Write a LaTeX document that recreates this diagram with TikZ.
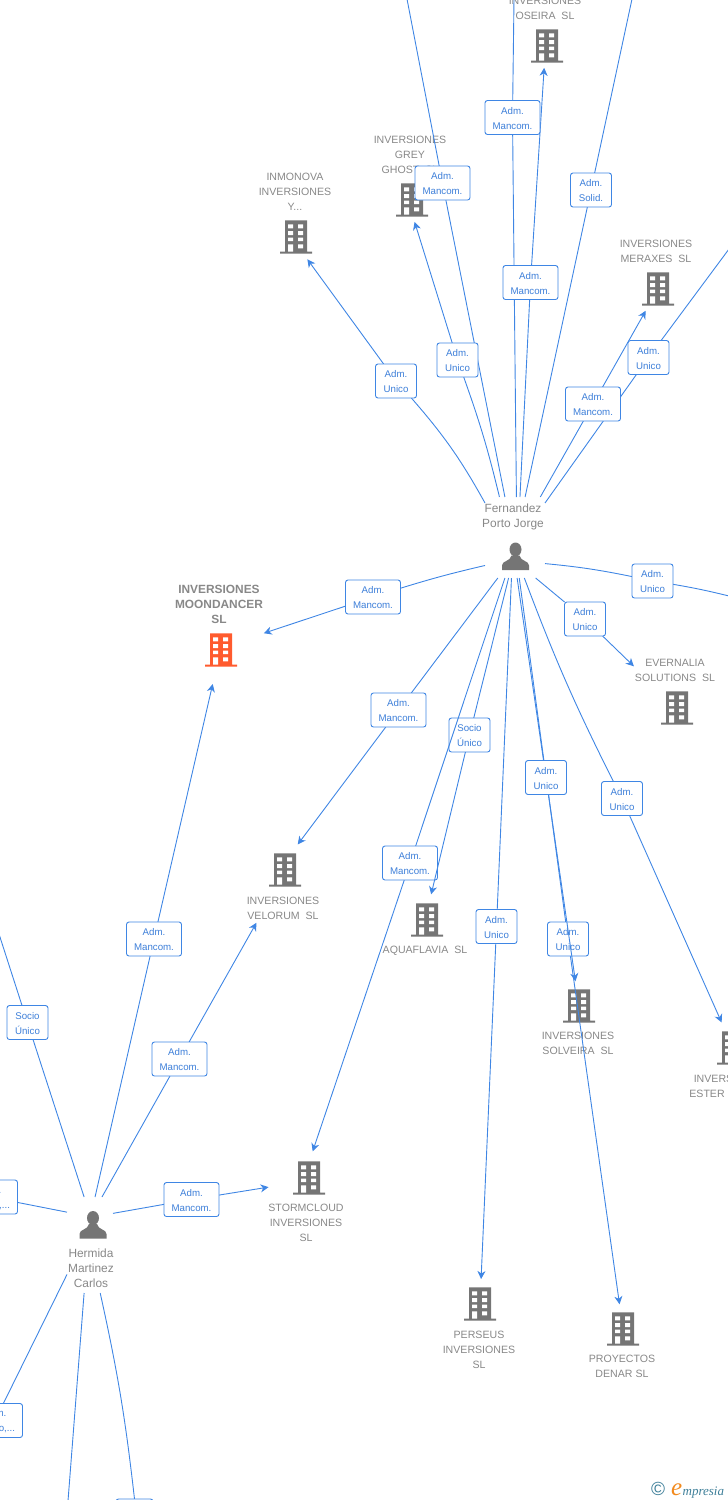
\documentclass[tikz,border=0pt]{standalone}
\usepackage{fontspec}
\setmainfont{Liberation Sans}
\newfontfamily\logofont{Liberation Serif}
\usetikzlibrary{arrows.meta}
\definecolor{linkblue}{HTML}{3F86E4}
\definecolor{boxtext}{HTML}{3D7FD9}
\definecolor{namegray}{HTML}{888888}
\definecolor{icongray}{HTML}{757575}
\definecolor{mainorange}{HTML}{FF5B2E}
\definecolor{logoteal}{HTML}{3E7F99}
\definecolor{logoorange}{HTML}{F28A1E}
\pgfdeclarelayer{boxes}
\pgfdeclarelayer{over}
\pgfsetlayers{main,boxes,over}
\newcommand{\roletext}[2]{\rule{0pt}{9pt}#1\\#2}
\newcommand{\drawbuilding}[1]{%
  \begin{scope}[shift={(path picture bounding box.center)}]
    \fill[#1] (-11,-16.7) rectangle (11,15) (-16,14.7) rectangle (16,16.7);
    \fill[white] (-8,-12.7) rectangle (-3,-8.7) (2,-12.7) rectangle (7,-8.7)
      (-8,-6) rectangle (-3,-2) (2,-6) rectangle (7,-2)
      (-8,0.7) rectangle (-3,4) (2,0.7) rectangle (7,4)
      (-8,7.3) rectangle (-3,14.7) (2,7.3) rectangle (7,11.3);
  \end{scope}}
\newcommand{\drawperson}{%
  \begin{scope}[shift={(path picture bounding box.center)}]
    \fill[icongray] (0,-7) ellipse (6 and 7);
    \fill[icongray] (-13.5,13.5) -- (-13.5,9) .. controls (-13.5,4) and (-5,5) .. (-4,-1)
      -- (4,-1) .. controls (5,5) and (13.5,4) .. (13.5,9) -- (13.5,13.5) -- cycle;
  \end{scope}}
\tikzset{
  company/.style={circle,inner sep=0pt,outer sep=0pt,minimum size=50pt,path picture={\drawbuilding{#1}}},
  company/.default=icongray,
  person/.style={circle,inner sep=0pt,minimum size=40pt,path picture={\drawperson}},
  hubfer/.style={rectangle,inner sep=0pt,outer sep=0pt,minimum width=60pt,minimum height=81pt},
  hubher/.style={rectangle,inner sep=0pt,outer sep=0pt,minimum width=46pt,minimum height=96pt},
  namelabel/.style={text=namegray,align=center,inner sep=0pt,yshift=-0.7pt,font=\fontsize{10.6}{15}\selectfont},
  personlabel/.style={namelabel,font=\fontsize{11.9}{15}\selectfont},
  rolebox/.style={draw=linkblue,line width=0.9pt,rounded corners=2.5pt,fill=white,
    text=boxtext,align=center,inner sep=0pt,outer sep=0pt,minimum height=34pt,
    font=\fontsize{9.7}{15}\selectfont},
  wide/.style={rolebox,minimum width=55pt},
  narrow/.style={rolebox,minimum width=41pt},
  link/.style={draw=linkblue,line width=0.9pt},
  arrow/.style={link,-{Stealth[length=8pt,width=8pt,inset=2.5pt]}}
}
\begin{document}
\begin{tikzpicture}[x=1pt,y=-1pt]
  \useasboundingbox (0,0) rectangle (728,1500);
  %NODE
  \node[company] (oseira) at (547,46){};
  \node[company] (grey) at (412,200){};
  \node[company] (inmonova) at (296,237){};
  \node[company] (meraxes) at (658,289){};
  \node[company] (evernalia) at (677,708){};
  \node[company=mainorange] (moondancer) at (221,650){};
  \node[company] (velorum) at (285,870){};
  \node[company] (aquaflavia) at (427,920){};
  \node[company] (solveira) at (579,1006){};
  \node[company] (ester) at (733,1048){};
  \node[company] (stormcloud) at (309,1178){};
  \node[company] (perseus) at (480,1304){};
  \node[company] (proyectos) at (623,1329){};
  \node[person] (fernandezicon) at (515.5,556.5){};
  \node[person] (hermidaicon) at (93,1225){};
  \node[hubfer] (fernandez) at (515,537.5){};
  \node[hubher] (hermida) at (90,1245){};

  \node[namelabel] (oseiraname) at (545,7.5){INVERSIONES\\OSEIRA\ \ SL};
  \node[namelabel] (greyname) at (410,154){INVERSIONES\\GREY\\GHOST\ \ SL};
  \node[namelabel] (inmonovaname) at (295,191){INMONOVA\\INVERSIONES\\Y...};
  \node[namelabel] (meraxesname) at (656,250.5){INVERSIONES\\MERAXES\ \ SL};
  \node[namelabel] (evernalianame) at (675,669.5){EVERNALIA\\SOLUTIONS\ \ SL};
  \node[namelabel,font=\fontsize{11.9}{15}\selectfont\bfseries] (moondancername) at (219,604){INVERSIONES\\MOONDANCER\\SL};
  \node[namelabel] (velorumname) at (283,907.5){INVERSIONES\\VELORUM\ \ SL};
  \node[namelabel] (aquaflavianame) at (425,950){AQUAFLAVIA\ \ SL};
  \node[namelabel] (solveiraname) at (578,1042.5){INVERSIONES\\SOLVEIRA\ \ SL};
  \node[namelabel] (estername) at (730,1085.5){INVERSIONES\\ESTER\hphantom{OSEIRA\ \ }};
  \node[namelabel] (stormcloudname) at (306,1222){STORMCLOUD\\INVERSIONES\\SL};
  \node[namelabel] (perseusname) at (479,1349){PERSEUS\\INVERSIONES\\SL};
  \node[namelabel] (proyectosname) at (622,1365.5){PROYECTOS\\DENAR SL};
  \node[personlabel] (fernandezname) at (513,516.5){Fernandez\\Porto Jorge};
  \node[personlabel] (hermidaname) at (91,1268){Hermida\\Martinez\\Carlos};

  \node[text=logoteal,inner sep=0pt,font=\fontsize{19}{19}\selectfont] (logomark) at (658,1488.5){©};
  \node[anchor=base west,inner sep=0pt,font=\logofont\itshape\fontsize{25}{25}\selectfont,text=logoorange] (logoe) at (671,1495){e};
  \node[anchor=base west,inner sep=0pt,font=\logofont\itshape\fontsize{13}{13}\selectfont,text=logoteal] (logorest) at (logoe.base east){mpresia};

  \coordinate (topleft) at (407,-1);
  \coordinate (topmid) at (514,-1);
  \coordinate (topright) at (632,-1);
  \coordinate (rightup) at (729,249);
  \coordinate (rightmid) at (729,596);
  \coordinate (leftup) at (-1,934);
  \coordinate (bottomleft) at (68,1501);

  \begin{pgfonlayer}{boxes}
    \node[narrow] (unicoinmonova) at (396,381){\roletext{Adm.}{Unico}};
    \node[narrow] (unicogrey) at (457.5,360){\roletext{Adm.}{Unico}};
    \node[wide] (mancomtopleft) at (442.5,183){\roletext{Adm.}{Mancom.}};
    \node[wide] (mancomtopmid) at (512.5,117.5){\roletext{Adm.}{Mancom.}};
    \node[wide] (mancomoseira) at (530.5,282.5){\roletext{Adm.}{Mancom.}};
    \node[narrow] (solidtop) at (591,190){\roletext{Adm.}{Solid.}};
    \node[wide] (mancommeraxes) at (593,404){\roletext{Adm.}{Mancom.}};
    \node[narrow] (unicorightup) at (648.5,357.5){\roletext{Adm.}{Unico}};
    \node[narrow] (unicorightmid) at (652.5,581){\roletext{Adm.}{Unico}};
    \node[narrow] (unicoevernalia) at (585,619){\roletext{Adm.}{Unico}};
    \node[wide] (mancommoonf) at (373,597){\roletext{Adm.}{Mancom.}};
    \node[wide] (mancomvelorf) at (398.5,710){\roletext{Adm.}{Mancom.}};
    \node[narrow] (socioaqua) at (469.5,735){\roletext{Socio}{Único}};
    \node[wide] (mancomstormf) at (410,863){\roletext{Adm.}{Mancom.}};
    \node[narrow] (unicoperseus) at (496.5,926.5){\roletext{Adm.}{Unico}};
    \node[narrow] (unicosolveira) at (546,777.5){\roletext{Adm.}{Unico}};
    \node[narrow] (unicoproyectos) at (568,939){\roletext{Adm.}{Unico}};
    \node[narrow] (unicoester) at (622,798.5){\roletext{Adm.}{Unico}};
    \node[wide] (mancommoonh) at (154,939){\roletext{Adm.}{Mancom.}};
    \node[wide] (mancomvelorh) at (179.5,1059){\roletext{Adm.}{Mancom.}};
    \node[wide] (mancomstormh) at (191.5,1199.5){\roletext{Adm.}{Mancom.}};
    \node[narrow] (socioleft) at (27.5,1022.5){\roletext{Socio}{Único}};
    \node[wide] (clippedup) at (-10,1197){\roletext{Adm.}{Manco,...}};
    \node[wide] (clippeddown) at (-5,1420.5){\roletext{Adm.}{Manco,...}};
    \node[rolebox,minimum width=37pt] (clippedbottom) at (134.5,1516){};
  \end{pgfonlayer}

  %EDGE
  \path[link] (fernandez.131) to[bend right=6] (unicoinmonova);
  \draw[arrow] (unicoinmonova) -- (inmonova.-63.4);
  \path[link] (fernandez.111.6) to[bend right=3] (unicogrey);
  \draw[arrow,shorten >=-3pt] (unicogrey) -- (grey.-82.2);
  \draw[link] (fernandez.104) -- (mancomtopleft);
  \draw[link] (mancomtopleft) -- (topleft);
  \draw[link] (fernandez.88.6) -- (mancomtopmid);
  \draw[link] (mancomtopmid) -- (topmid);
  \draw[link] (fernandez.83) -- (mancomoseira);
  \draw[arrow,shorten >=-3pt] (mancomoseira) -- (oseira.-97.8);
  \draw[link] (fernandez.76) -- (solidtop);
  \draw[link] (solidtop) -- (topright);
  \draw[link] (fernandez.58.3) -- (mancommeraxes);
  \draw[arrow] (mancommeraxes) -- (meraxes);
  \draw[link] (fernandez.49) -- (unicorightup);
  \draw[link] (unicorightup) -- (rightup);
  \path[link] (fernandez.-41.5) to[bend left=3] (unicorightmid);
  \path[link] (unicorightmid) to[bend left=2] (rightmid);
  \draw[link] (fernandez.-63.7) -- (unicoevernalia);
  \draw[arrow,shorten >=35pt] (unicoevernalia) -- (evernalia);
  \path[link] (fernandez.223.5) to[bend right=2] (mancommoonf);
  \draw[arrow,shorten >=21pt] (mancommoonf) -- (moondancer.24.3);
  \draw[link] (fernandez.247.2) -- (mancomvelorf);
  \draw[arrow,shorten >=3.6pt] (mancomvelorf) -- (velorum.65.2);
  \draw[link] (fernandez.261.6) -- (socioaqua);
  \draw[link] (fernandez.265.8) -- (unicoperseus);
  \draw[arrow] (unicoperseus) -- (perseus);
  \draw[link] (fernandez.-87.2) -- (unicosolveira);
  \draw[link] (fernandez.-84.4) -- (unicoproyectos);
  \draw[arrow] (unicoproyectos) -- (proyectos);
  \path[link] (fernandez.-77.5) to[bend right=3] (unicoester);
  \draw[arrow,shorten >=3pt] (unicoester) -- (ester);
  \draw[arrow,shorten >=2pt] (mancomstormf) -- (stormcloud.83.7);

  \draw[link] (hermida.84) -- (mancommoonh);
  \draw[arrow,shorten >=10pt] (mancommoonh) -- (moondancer.-104.8);
  \draw[link] (hermida.76) -- (mancomvelorh);
  \draw[arrow,shorten >=35pt] (mancomvelorh) -- (velorum.-117.8);
  \draw[link] (hermida.54.3) -- (mancomstormh);
  \draw[arrow,shorten >=16.5pt] (mancomstormh) -- (stormcloud.195.4);
  \draw[link] (hermida.97) -- (socioleft);
  \draw[link] (socioleft) -- (leftup);
  \draw[link] (hermida.125) -- (clippedup);
  \draw[link] (hermida.232.5) -- (clippeddown);
  \draw[link] (hermida.263) -- (bottomleft);
  \path[link] (hermida.-78) to[bend left=3] (clippedbottom.north);

  \begin{pgfonlayer}{over}
    \draw[link] (fernandez.256) -- (mancomstormf);
    \draw[arrow,shorten >=1pt] (socioaqua) -- (aquaflavia.81.3);
    \draw[arrow] (unicosolveira) -- (solveira);
  \end{pgfonlayer}
\end{tikzpicture}
\end{document}
